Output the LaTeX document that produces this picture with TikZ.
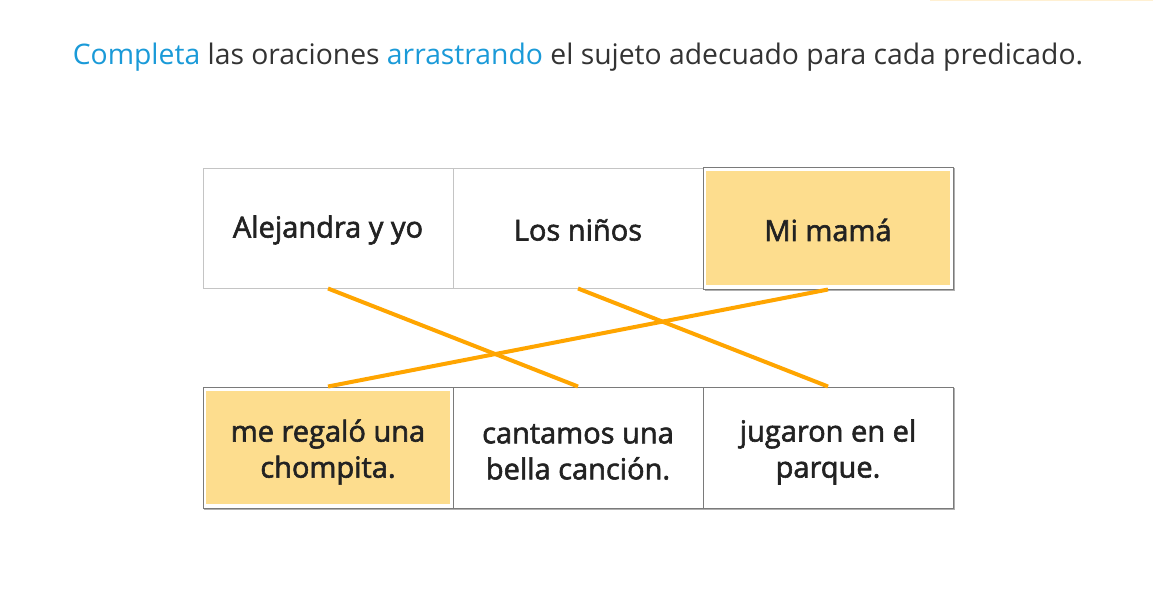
\documentclass[tikz,border=0pt]{standalone}
\usepackage{fontspec}
\setmainfont{Open Sans}
\newfontfamily\boxfont[FakeBold=2]{Open Sans}
\definecolor{titleblue}{HTML}{1A9AD8}
\definecolor{titlegray}{HTML}{333333}
\definecolor{boxtext}{HTML}{222222}
\definecolor{lightborder}{HTML}{C4C4C4}
\definecolor{darkborder}{HTML}{7A7A7A}
\definecolor{shadowgray}{HTML}{B0B0B0}
\definecolor{hlfill}{HTML}{FDDD8E}
\definecolor{linkorange}{HTML}{FFA500}
\tikzset{
  cell/.style={draw=lightborder, line width=1pt, minimum width=250pt, minimum height=120pt, inner sep=0pt, align=center, font=\boxfont\fontsize{29}{36}\selectfont, text=boxtext},
  label/.style={inner sep=0pt, align=center, font=\boxfont\fontsize{29}{36}\selectfont, text=boxtext},
  framed/.style={draw=darkborder, line width=1pt, fill=white, inner sep=0pt},
  hlin/.style={fill=hlfill, draw=none, inner sep=0pt},
  shadowline/.style={draw=shadowgray, line width=1.5pt},
  link/.style={draw=linkorange, line width=4pt},
}
\begin{document}
\begin{tikzpicture}[x=1pt,y=-1pt]
\useasboundingbox (0,0) rectangle (1153,594);
\fill[white] (0,0) rectangle (1153,594);
\draw[color={rgb,255:red,255;green,240;blue,210}, line width=1.5pt] (930,0.75) -- (1153,0.75);
% title
\node[font=\fontsize{28.3}{34}\selectfont, text=titlegray, anchor=center, inner sep=0pt] (title) at (578,57)
  {\textcolor{titleblue}{Completa} las oraciones \textcolor{titleblue}{arrastrando} el sujeto adecuado para cada predicado.};
% top row
\node[cell] (t1) at (328,228) {};
\node[label] (t1txt) at (328,230) {Alejandra y yo};
\node[cell] (t2) at (578,228) {};
\node[label] (t2txt) at (578,230) {Los niños};
\draw[shadowline] (954.5,168) -- (954.5,290) -- (705,290);
\node[framed, minimum width=250pt, minimum height=122pt] (t3) at (828,228) {};
\node[hlin, minimum width=244pt, minimum height=114pt] (t3in) at (828,228) {};
\node[label] (t3txt) at (828,230) {Mi mamá};
% bottom row
\draw[shadowline] (954.5,388) -- (954.5,509.5) -- (204,509.5);
\node[framed, minimum width=250pt, minimum height=121pt] (b1) at (328,447.5) {};
\node[hlin, minimum width=244pt, minimum height=113pt] (b1in) at (328,447.5) {};
\node[label] (b1txt) at (328,452) {me regaló una\\chompita.};
\node[framed, minimum width=250pt, minimum height=121pt] (b2) at (578,447.5) {};
\node[label] (b2txt) at (578,452) {cantamos una\\bella canción.};
\node[framed, minimum width=250pt, minimum height=121pt] (b3) at (828,447.5) {};
\node[label] (b3txt) at (828,452) {jugaron en el\\parque.};
% links
\draw[link] (t1.south) -- (b2.north);
\draw[link] (t2.south) -- (b3.north);
\draw[link] (t3.south) -- (b1.north);
\end{tikzpicture}
\end{document}
